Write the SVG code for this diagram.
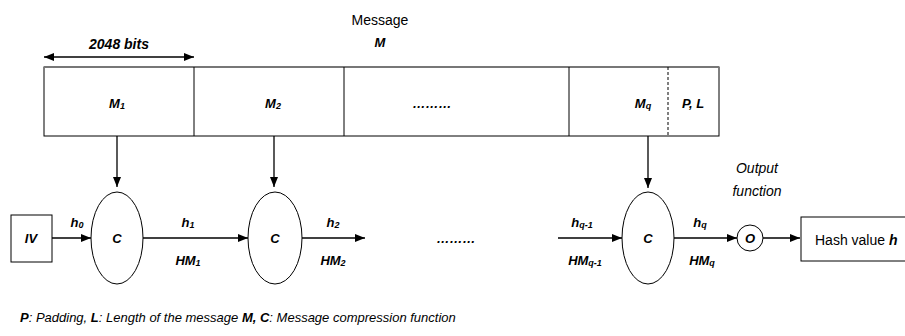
<svg xmlns="http://www.w3.org/2000/svg" width="905" height="336" viewBox="0 0 905 336">
  <defs>
    <marker id="arrow" viewBox="0 0 10 8" refX="10" refY="4" markerWidth="10" markerHeight="8" markerUnits="userSpaceOnUse" orient="auto-start-reverse">
      <path d="M0,0 L10,4 L0,8 Z" fill="#000"/>
    </marker>
    <style>
      text { font-family: "Liberation Sans", Arial, sans-serif; fill: #000; }
      .lbl { font-size: 13px; font-weight: bold; font-style: italic; text-anchor: middle; }
      .sub { font-size: 9px; }
      .plain { font-size: 14px; }
      .it { font-style: italic; }
      .shape { fill: #fff; stroke: #000; stroke-width: 1; }
      .conn { stroke: #000; stroke-width: 1.3; fill: none; marker-end: url(#arrow); }
    </style>
  </defs>

  <!-- message header -->
  <text class="plain" x="380" y="25" text-anchor="middle">Message</text>
  <text class="lbl" x="380" y="47">M</text>
  <text class="lbl" x="119" y="49" style="font-size:14px">2048 bits</text>

  <!-- message blocks -->
  <g id="message">
    <rect class="shape" x="44" y="67" width="675" height="69"/>
    <line x1="44" y1="67" x2="719" y2="67" stroke="#777" stroke-width="2"/>
    <line x1="194" y1="67" x2="194" y2="136" stroke="#000"/>
    <line x1="344" y1="67" x2="344" y2="136" stroke="#000"/>
    <line x1="569" y1="67" x2="569" y2="136" stroke="#000"/>
    <line x1="668" y1="67" x2="668" y2="136" stroke="#000" stroke-dasharray="3,2"/>
    <text class="lbl" x="117" y="108">M<tspan class="sub" dy="1">1</tspan></text>
    <text class="lbl" x="273" y="108">M<tspan class="sub" dy="1">2</tspan></text>
    <text class="lbl" x="432" y="108">………</text>
    <text class="lbl" x="643" y="108">M<tspan class="sub" dy="1">q</tspan></text>
    <text class="lbl" x="693" y="108">P, L</text>
  </g>

  <!-- processing chain -->
  <g id="iv">
    <rect class="shape" x="11" y="215" width="41" height="47"/>
    <text class="lbl" x="31" y="243">IV</text>
  </g>
  <g id="c1">
    <ellipse class="shape" cx="117" cy="238" rx="26" ry="46"/>
    <text class="lbl" x="117" y="243">C</text>
  </g>
  <g id="c2">
    <ellipse class="shape" cx="275" cy="238" rx="27" ry="46"/>
    <text class="lbl" x="275" y="243">C</text>
  </g>
  <g id="cq">
    <ellipse class="shape" cx="648" cy="238" rx="26" ry="46"/>
    <text class="lbl" x="648" y="243">C</text>
  </g>
  <g id="output">
    <circle class="shape" cx="750" cy="238" r="13"/>
    <text class="lbl" x="750" y="243">O</text>
    <text class="plain it" x="757" y="173" text-anchor="middle">Output</text>
    <text class="plain it" x="757" y="196" text-anchor="middle">function</text>
  </g>
  <g id="hash">
    <rect class="shape" x="801" y="217" width="110" height="44"/>
    <text class="plain" x="815" y="245">Hash value <tspan font-weight="bold" font-style="italic">h</tspan></text>
  </g>

  <!-- connectors -->
  <g id="connectors">
    <line class="conn" x1="44" y1="57" x2="194" y2="57" marker-start="url(#arrow)"/>
    <line class="conn" x1="117" y1="136" x2="117" y2="187"/>
    <line class="conn" x1="274" y1="136" x2="274" y2="187"/>
    <line class="conn" x1="648" y1="136" x2="648" y2="188"/>
    <line class="conn" x1="52" y1="238" x2="91" y2="238"/>
    <line class="conn" x1="143" y1="238" x2="248" y2="238"/>
    <line class="conn" x1="302" y1="238" x2="365" y2="238"/>
    <line class="conn" x1="558" y1="238" x2="622" y2="238"/>
    <line class="conn" x1="674" y1="238" x2="737" y2="238"/>
    <line class="conn" x1="763" y1="238" x2="800" y2="238"/>
  </g>

  <!-- chaining values -->
  <text class="lbl" x="77" y="227">h<tspan class="sub" dy="1">0</tspan></text>
  <text class="lbl" x="188" y="227">h<tspan class="sub" dy="1">1</tspan></text>
  <text class="lbl" x="188" y="265">HM<tspan class="sub" dy="1">1</tspan></text>
  <text class="lbl" x="333" y="227">h<tspan class="sub" dy="1">2</tspan></text>
  <text class="lbl" x="333" y="265">HM<tspan class="sub" dy="1">2</tspan></text>
  <text class="lbl" x="456" y="243">………</text>
  <text class="lbl" x="582" y="227">h<tspan class="sub" dy="1">q-1</tspan></text>
  <text class="lbl" x="585" y="265">HM<tspan class="sub" dy="1">q-1</tspan></text>
  <text class="lbl" x="700" y="227">h<tspan class="sub" dy="1">q</tspan></text>
  <text class="lbl" x="702" y="265">HM<tspan class="sub" dy="1">q</tspan></text>

  <!-- legend -->
  <text x="20" y="322" font-size="13" font-style="italic"><tspan font-weight="bold">P</tspan>: Padding, <tspan font-weight="bold">L</tspan>: Length of the message <tspan font-weight="bold">M, C</tspan>: Message compression function</text>
</svg>
